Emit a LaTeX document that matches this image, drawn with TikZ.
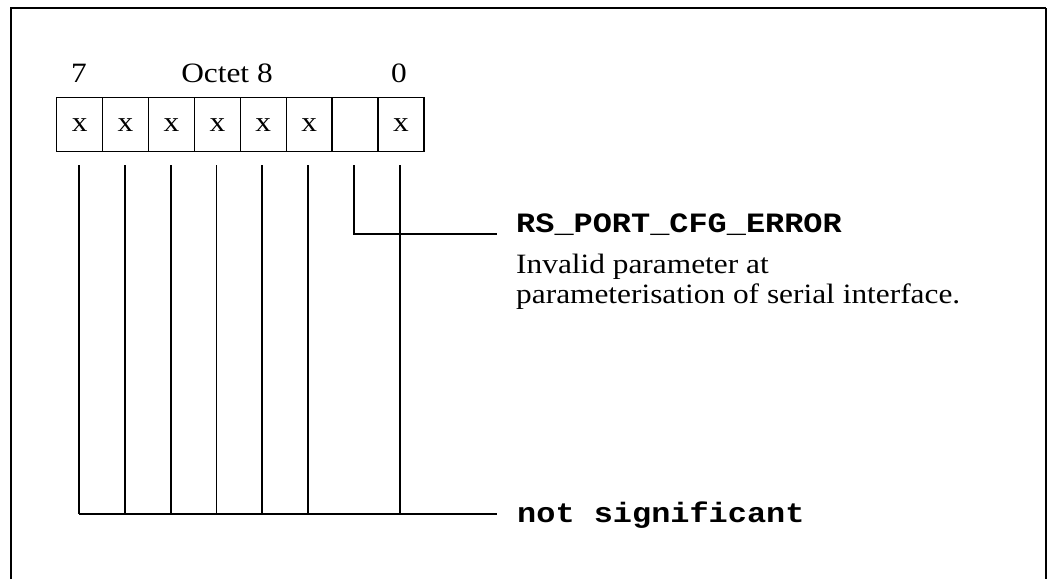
\documentclass[tikz,border=0pt]{standalone}
\usepackage{fontspec}
\setmainfont{Liberation Serif}[FakeStretch=1.12]
\newfontfamily\courbf{Liberation Mono}[FakeStretch=1.14,UprightFont=*-Bold]
\begin{document}
\begin{tikzpicture}[x=1pt,y=-1pt,
  frame/.style={line width=2pt},
  bitbox/.style={draw,line width=1.4pt,minimum width=45.9pt,minimum height=54pt,inner sep=0pt,anchor=north west,font=\fontsize{28}{30}\selectfont},
  lead/.style={line width=1.3pt},
  serif/.style={font=\fontsize{28}{30}\selectfont,inner sep=0pt,anchor=base},
  code/.style={font=\courbf\fontsize{28}{30}\selectfont,inner sep=0pt,anchor=base west},
  desc/.style={font=\fontsize{28}{30}\selectfont,inner sep=0pt,anchor=base west}]
\useasboundingbox (0,0) rectangle (1047,579);
% frame (open at the bottom)
\draw[frame] (11,579) -- (11,8) -- (1046,8);
\draw[line width=1.3pt] (1046,8) -- (1046,579);
% header labels
\node[serif] (l7) at (79,82) {7};
\node[serif] (loct) at (227,82) {Octet 8};
\node[serif] (l0) at (399,82) {0};
% bit boxes
\node[bitbox] (b7) at (56,97) {x};
\node[bitbox] (b6) at (101.9,97) {x};
\node[bitbox] (b5) at (147.8,97) {x};
\node[bitbox] (b4) at (193.7,97) {x};
\node[bitbox] (b3) at (239.6,97) {x};
\node[bitbox] (b2) at (285.5,97) {x};
\node[bitbox] (b1) at (331.4,97) {};
\node[bitbox] (b0) at (377.3,97) {x};
% lead-line coordinates
\foreach \n/\x in {7/79,6/125,5/171,4/216.5,3/262,2/308,1/354,0/400}{
  \coordinate (t\n) at (\x,165);
}
\foreach \n/\x in {7/79,6/125,5/171,4/216.5,3/262,2/308,0/400}{
  \coordinate (e\n) at (\x,514);
}
\coordinate (e1) at (354,234);
\coordinate (j1) at (497,234);
\coordinate (j0) at (497,514);
% texts
\node[code] (err) at (516,232) {RS\_PORT\_CFG\_ERROR};
\node[desc] (d1) at (516,273) {Invalid parameter at};
\node[desc] (d2) at (516,303) {parameterisation of serial interface.};
\node[code] (ns) at (517,522) {not significant};
% leads
\foreach \n in {7,6,5,4,3,2,0}{\draw[lead] (t\n) -- (e\n);}
\draw[lead] (t1) -- (e1) -- (j1);
\draw[lead] (e7) -- (j0);
\end{tikzpicture}
\end{document}
